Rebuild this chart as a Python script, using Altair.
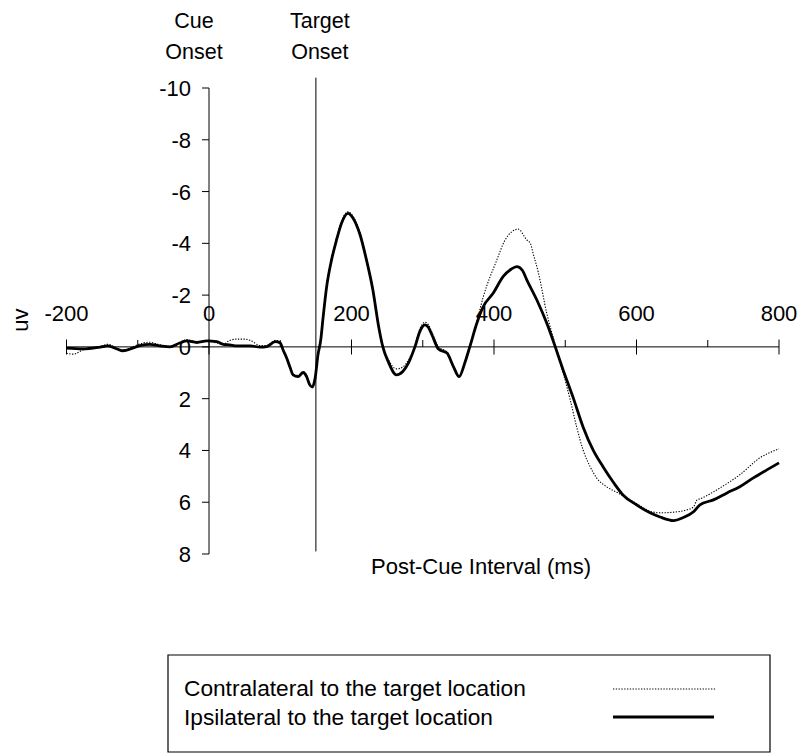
import altair as alt
import pandas as pd

FONT = "Liberation Sans"

# Grand-average ERP, electrode ipsilateral to the target location (ms, microvolts)
TIME_IPSI = [-200, -177, -153, -142, -129, -121, -107, -97, -83, -69, -55, -41, -31, -17, -3,
             11, 20, 29, 39, 58, 72, 81, 93, 100, 104, 109, 114, 118, 125, 132, 137, 141, 145,
             149, 153, 157, 160, 165, 172, 179, 186, 195, 202, 212, 221, 230, 238, 244, 252,
             263, 272, 280, 289, 296, 303, 308, 313, 322, 334, 343, 351, 359, 366, 376, 385,
             399, 413, 424, 432, 440, 446, 460, 474, 486, 497, 511, 525, 539, 553, 568, 581,
             600, 619, 633, 652, 665, 680, 689, 708, 727, 745, 764, 783, 800]
UV_IPSI = [0.05, 0.08, 0.01, -0.04, 0.08, 0.15, 0.05, -0.05, -0.10, -0.04, 0.00, -0.15, -0.23,
           -0.17, -0.23, -0.20, -0.10, -0.08, -0.04, -0.04, 0.01, -0.01, -0.20, -0.15, 0.12,
           0.43, 0.81, 1.08, 1.15, 0.99, 1.15, 1.45, 1.55, 1.20, 0.30, -0.30, -1.10, -2.30,
           -3.36, -4.13, -4.78, -5.16, -4.98, -4.33, -3.36, -2.20, -0.80, 0.00, 0.60, 1.08,
           0.95, 0.62, 0.00, -0.60, -0.85, -0.75, -0.46, 0.08, 0.24, 0.76, 1.15, 0.62, 0.00,
           -0.92, -1.56, -2.08, -2.72, -3.00, -3.10, -2.95, -2.59, -1.82, -0.92, 0.00, 0.89,
           1.95, 3.09, 3.98, 4.63, 5.25, 5.72, 6.10, 6.41, 6.57, 6.71, 6.60, 6.37, 6.10, 5.91,
           5.64, 5.40, 5.06, 4.75, 4.48]

# Grand-average ERP, electrode contralateral to the target location (ms, microvolts)
TIME_CONTRA = [-200, -190, -177, -153, -142, -129, -121, -107, -97, -83, -69, -55, -41, -31,
               -17, -3, 11, 20, 29, 39, 50, 58, 72, 81, 93, 100, 104, 109, 114, 118, 125, 132,
               137, 141, 145, 149, 153, 157, 160, 165, 172, 179, 186, 195, 202, 212, 221, 230,
               238, 244, 252, 263, 272, 280, 289, 296, 303, 308, 313, 322, 334, 343, 351, 359,
               366, 373, 385, 404, 415, 425, 434, 446, 451, 455, 462, 474, 486, 497, 507, 516,
               525, 535, 544, 558, 574, 586, 600, 619, 633, 657, 670, 680, 685, 689, 717, 745,
               773, 800]
UV_CONTRA = [0.25, 0.28, 0.12, 0.00, -0.10, 0.05, 0.12, 0.00, -0.12, -0.18, -0.08, -0.02,
             -0.18, -0.28, -0.20, -0.22, -0.15, -0.10, -0.25, -0.30, -0.30, -0.25, -0.05,
             -0.05, -0.25, -0.20, 0.10, 0.40, 0.78, 1.05, 1.10, 0.95, 1.10, 1.40, 1.50, 1.15,
             0.25, -0.35, -1.15, -2.35, -3.40, -4.20, -4.85, -5.22, -5.05, -4.40, -3.40, -2.25,
             -0.85, -0.05, 0.50, 0.85, 0.78, 0.50, -0.05, -0.70, -0.95, -0.85, -0.55, 0.00,
             0.20, 0.72, 1.12, 0.60, -0.05, -0.66, -1.94, -3.36, -4.10, -4.45, -4.55, -4.13,
             -4.00, -3.60, -2.90, -1.30, -0.08, 1.00, 2.05, 3.09, 3.98, 4.63, 5.06, 5.40, 5.64,
             5.83, 6.05, 6.35, 6.41, 6.37, 6.30, 6.18, 5.91, 5.87, 5.45, 4.94, 4.29, 3.94]

SERIES = ["Contralateral to the target location", "Ipsilateral to the target location"]

X_DOMAIN = [-200, 800]
Y_DOMAIN = [-10, 8]
X_TICKS_MAJOR = [-200, 0, 200, 400, 600, 800]
X_TICKS_MINOR = [-100, 100, 300, 500, 700]
Y_TICKS = [-10, -8, -6, -4, -2, 0, 2, 4, 6, 8]

CUE_ONSET = 0
TARGET_ONSET = 150
TARGET_LINE_SPAN = [-10.4, 7.9]
X_TITLE = "Post-Cue Interval (ms)"
Y_TITLE = "uv"

ipsi = pd.DataFrame({"ms": TIME_IPSI, "uv": UV_IPSI})
contra = pd.DataFrame({"ms": TIME_CONTRA, "uv": UV_CONTRA})
major = pd.DataFrame({"ms": X_TICKS_MAJOR, "uv": [0] * len(X_TICKS_MAJOR),
                      "label": [str(v) for v in X_TICKS_MAJOR]})
minor = pd.DataFrame({"ms": X_TICKS_MINOR, "uv": [0] * len(X_TICKS_MINOR)})
yticks = pd.DataFrame({"ms": [0] * len(Y_TICKS), "uv": Y_TICKS,
                       "label": [str(v) for v in Y_TICKS]})
x_line = pd.DataFrame({"ms": [X_DOMAIN[0]], "ms2": [X_DOMAIN[1]], "uv": [0]})
y_line = pd.DataFrame({"ms": [0], "uv": [Y_DOMAIN[0]], "uv2": [Y_DOMAIN[1]]})
target = pd.DataFrame({"ms": [TARGET_ONSET], "uv": [TARGET_LINE_SPAN[0]], "uv2": [TARGET_LINE_SPAN[1]]})
one = pd.DataFrame({"k": [0]})

# the whole canvas is the view, so scale ranges are canvas pixels
xs = alt.Scale(domain=X_DOMAIN, range=[66.5, 779], nice=False, zero=False)
ys = alt.Scale(domain=Y_DOMAIN, range=[88, 554], nice=False, zero=False)


def xq(field="ms"):
    return alt.X(f"{field}:Q", scale=xs, axis=None)


def yq(field="uv"):
    return alt.Y(f"{field}:Q", scale=ys, axis=None)


# axes crossing at the origin
x_axis_line = alt.Chart(x_line).mark_rule(color="black", strokeWidth=1).encode(
    x=xq(), x2="ms2:Q", y=yq())
y_axis_line = alt.Chart(y_line).mark_rule(color="black", strokeWidth=1).encode(
    x=xq(), y=yq(), y2="uv2:Q")
major_ticks = alt.Chart(major).mark_tick(orient="vertical", size=15, thickness=1, color="black",
                                         opacity=1).encode(x=xq(), y=yq())
minor_ticks = alt.Chart(minor).mark_tick(orient="vertical", size=7, thickness=1, color="black",
                                         opacity=1, yOffset=-3.5).encode(x=xq(), y=yq())
y_ticks = alt.Chart(yticks).mark_tick(orient="horizontal", size=7, thickness=1, color="black",
                                      opacity=1, xOffset=-3.5).encode(x=xq(), y=yq())

label_style = dict(font=FONT, fontSize=22, color="black")
x_labels = alt.Chart(major).mark_text(align="center", baseline="middle", dy=-33, **label_style).encode(
    x=xq(), y=yq(), text="label:N")
y_labels = alt.Chart(yticks).mark_text(align="right", baseline="middle", dx=-18, dy=1, **label_style).encode(
    x=xq(), y=yq(), text="label:N")

y_title = alt.Chart(one).mark_text(angle=270, align="center", baseline="middle", **label_style).encode(
    x=alt.value(21), y=alt.value(320), text=alt.value(Y_TITLE))
x_title = alt.Chart(one).mark_text(align="center", baseline="middle", **label_style).encode(
    x=alt.value(481), y=alt.value(567), text=alt.value(X_TITLE))

ipsi_line = alt.Chart(ipsi).mark_line(color="black", strokeWidth=2.8, interpolate="monotone").encode(
    x=xq(), y=yq())
contra_line = alt.Chart(contra).mark_line(color="black", strokeWidth=1.1, strokeDash=[1.3, 1.5],
                                          interpolate="monotone").encode(x=xq(), y=yq())

target_rule = alt.Chart(target).mark_rule(color="black", strokeWidth=1).encode(
    x=xq(), y=yq(), y2="uv2:Q")

onset_style = dict(font=FONT, fontSize=21.5, color="black", lineHeight=31, baseline="top")
cue_label = alt.Chart(pd.DataFrame({"ms": [CUE_ONSET]})).mark_text(align="center", dx=-15, **onset_style).encode(
    x=xq(), y=alt.value(11), text=alt.value(["Cue", "Onset"]))
target_label = alt.Chart(pd.DataFrame({"ms": [TARGET_ONSET]})).mark_text(align="center", dx=4, **onset_style).encode(
    x=xq(), y=alt.value(11), text=alt.value(["Target", "Onset"]))

# legend: framed box, labels on the left, line samples on the right
legend_box = alt.Chart(one).mark_rect(fillOpacity=0, stroke="black", strokeWidth=1.2).encode(
    x=alt.value(168), x2=alt.value(770), y=alt.value(655), y2=alt.value(752))
legend_text_1 = alt.Chart(one).mark_text(align="left", baseline="middle", font=FONT, fontSize=22.7,
                                         color="black").encode(
    x=alt.value(184), y=alt.value(689), text=alt.value(SERIES[0]))
legend_text_2 = alt.Chart(one).mark_text(align="left", baseline="middle", font=FONT, fontSize=22.7,
                                         color="black").encode(
    x=alt.value(184), y=alt.value(718), text=alt.value(SERIES[1]))
legend_line_1 = alt.Chart(one).mark_rule(color="black", strokeWidth=1.1, strokeDash=[1.3, 1.5]).encode(
    x=alt.value(613), x2=alt.value(716), y=alt.value(689))
legend_line_2 = alt.Chart(one).mark_rule(color="black", strokeWidth=2.8).encode(
    x=alt.value(613), x2=alt.value(714), y=alt.value(717))

chart = alt.layer(
    x_axis_line, y_axis_line, major_ticks, minor_ticks, y_ticks, x_labels, y_labels,
    y_title, x_title, target_rule, ipsi_line, contra_line, cue_label, target_label,
    legend_box, legend_text_1, legend_text_2, legend_line_1, legend_line_2,
).properties(
    width=800, height=753, autosize=alt.AutoSizeParams(type="none"), padding=0,
    background="white",
).configure_view(stroke=None)

chart.save("out.html", embed_options={"renderer": "svg", "actions": False})
